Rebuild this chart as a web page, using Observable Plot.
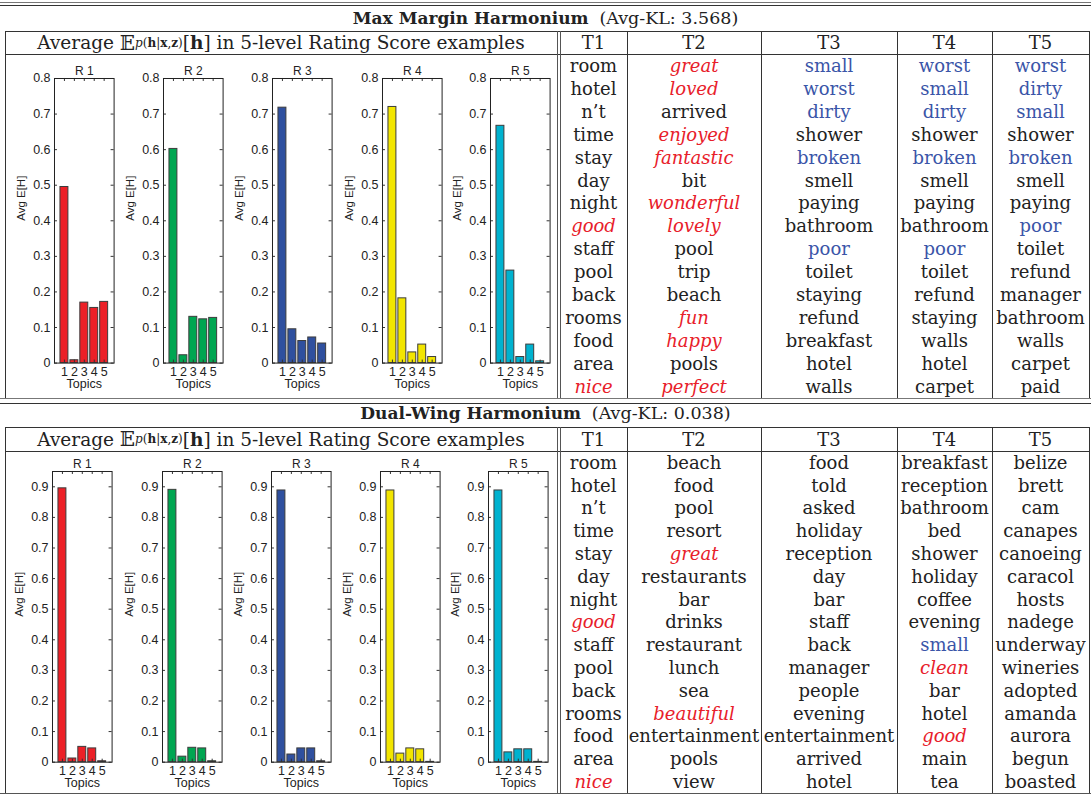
<!DOCTYPE html>
<html><head><meta charset="utf-8">
<script src="https://cdn.jsdelivr.net/npm/d3@7"></script>
<script src="https://cdn.jsdelivr.net/npm/@observablehq/plot@0.6"></script>
<style>
body{margin:0;background:#fff;}
#root{position:relative;width:1091px;height:796px;overflow:hidden;font-family:"DejaVu Serif",serif;color:#222;background:#fff;}
.h{position:absolute;height:0;border-top:1px solid #333;}
.v{position:absolute;width:0;border-left:1px solid #333;}
.title{position:absolute;left:0;width:1091px;text-align:center;font-size:17px;line-height:20px;white-space:nowrap;}
.title span{font-size:17.5px;}
.hdr{position:absolute;left:5px;width:552px;text-align:center;font-size:18.5px;white-space:nowrap;display:flex;align-items:center;justify-content:center;}
.hdr sub{font-size:12px;}
.hdr .bb{font-size:20px;}
.grid{position:absolute;display:grid;grid-template-columns:67px 134px 136px 95px 97px;}
.cell{font-size:18px;white-space:nowrap;display:flex;align-items:center;justify-content:center;}
.pos{color:#e8202a;font-style:italic;}
.neg{color:#3a55a8;}
.chart{position:absolute;overflow:visible;}
</style></head><body><div id="root"></div>
<script>
// ---------- data ----------
const topics = [1, 2, 3, 4, 5];
const ratingLabels = ["R 1", "R 2", "R 3", "R 4", "R 5"];
const ratingColors = ["#ec2027", "#00a651", "#2f509f", "#f2e500", "#00b2cf"];
const topicHeaders = ["T1", "T2", "T3", "T4", "T5"];

// Max Margin Harmonium: Avg E[H] per topic, for each rating level
const mmhR1 = [0.495, 0.008, 0.170, 0.155, 0.172];
const mmhR2 = [0.602, 0.022, 0.130, 0.123, 0.127];
const mmhR3 = [0.718, 0.095, 0.062, 0.072, 0.055];
const mmhR4 = [0.720, 0.182, 0.030, 0.052, 0.017];
const mmhR5 = [0.667, 0.260, 0.017, 0.052, 0.005];
const mmhYTicks = [0, 0.1, 0.2, 0.3, 0.4, 0.5, 0.6, 0.7, 0.8];

// Dual-Wing Harmonium
const dwhR1 = [0.895, 0.012, 0.050, 0.045, 0.003];
const dwhR2 = [0.890, 0.018, 0.047, 0.045, 0.003];
const dwhR3 = [0.888, 0.025, 0.045, 0.045, 0.003];
const dwhR4 = [0.888, 0.028, 0.045, 0.042, 0.001];
const dwhR5 = [0.888, 0.032, 0.042, 0.042, 0.001];
const dwhYTicks = [0, 0.1, 0.2, 0.3, 0.4, 0.5, 0.6, 0.7, 0.8, 0.9];

// word lists
const mmhT1 = ["room","hotel","n’t","time","stay","day","night","good","staff","pool","back","rooms","food","area","nice"];
const mmhT2 = ["great","loved","arrived","enjoyed","fantastic","bit","wonderful","lovely","pool","trip","beach","fun","happy","pools","perfect"];
const mmhT3 = ["small","worst","dirty","shower","broken","smell","paying","bathroom","poor","toilet","staying","refund","breakfast","hotel","walls"];
const mmhT4 = ["worst","small","dirty","shower","broken","smell","paying","bathroom","poor","toilet","refund","staying","walls","hotel","carpet"];
const mmhT5 = ["worst","dirty","small","shower","broken","smell","paying","poor","toilet","refund","manager","bathroom","walls","carpet","paid"];

const dwhT1 = ["room","hotel","n’t","time","stay","day","night","good","staff","pool","back","rooms","food","area","nice"];
const dwhT2 = ["beach","food","pool","resort","great","restaurants","bar","drinks","restaurant","lunch","sea","beautiful","entertainment","pools","view"];
const dwhT3 = ["food","told","asked","holiday","reception","day","bar","staff","back","manager","people","evening","entertainment","arrived","hotel"];
const dwhT4 = ["breakfast","reception","bathroom","bed","shower","holiday","coffee","evening","small","clean","bar","hotel","good","main","tea"];
const dwhT5 = ["belize","brett","cam","canapes","canoeing","caracol","hosts","nadege","underway","wineries","adopted","amanda","aurora","begun","boasted"];

const positiveWords = ["good","nice","great","loved","enjoyed","fantastic","wonderful","lovely","fun","happy","perfect","beautiful","clean"];
const negativeWords = ["small","worst","dirty","broken","poor"];

// ---------- layout helpers ----------
const root = document.getElementById("root");
function hline(y, x1, x2, color, w) {
  const d = document.createElement("div"); d.className = "h";
  d.style.top = y + "px"; d.style.left = x1 + "px"; d.style.width = (x2 - x1) + "px";
  if (color) d.style.borderTopColor = color;
  if (w) d.style.borderTopWidth = w + "px";
  root.appendChild(d);
}
function vline(x, y1, y2, color) {
  const d = document.createElement("div"); d.className = "v";
  d.style.left = x + "px"; d.style.top = y1 + "px"; d.style.height = (y2 - y1) + "px";
  if (color) d.style.borderLeftColor = color;
  root.appendChild(d);
}
function addHTML(cls, html, style) {
  const d = document.createElement("div"); d.className = cls; d.innerHTML = html;
  Object.assign(d.style, style); root.appendChild(d); return d;
}

function barChart(values, label, color, yMax, yTicks, frameLeft, frameTop, frameBottom) {
  const W = 59.6, H = frameBottom - frameTop;
  const ml = 42, mr = 8, mt = 22, mb = 36;
  const data = topics.map((t, i) => ({topic: t, value: values[i]}));
  const svg = Plot.plot({
    width: ml + W + mr, height: mt + H + mb,
    marginLeft: ml, marginRight: mr, marginTop: mt, marginBottom: mb,
    style: {fontFamily: "'Liberation Sans', Arial, sans-serif", fontSize: "12px", color: "#222", background: "transparent", overflow: "visible"},
    x: {domain: [0, 6], axis: null, label: null},
    y: {domain: [0, yMax], axis: null, label: null},
    marks: [
      Plot.rectY(data, {x1: d => d.topic - 0.4, x2: d => d.topic + 0.4, y1: 0, y2: "value", fill: color, stroke: "#3c3c3c", strokeWidth: 1}),
      Plot.tickY(yTicks, {y: d => d, insetRight: W - 3, stroke: "#333"}),
      Plot.tickY(yTicks, {y: d => d, insetLeft: W - 3, stroke: "#333"}),
      Plot.tickX(topics, {x: d => d, insetBottom: H - 3, stroke: "#333"}),
      Plot.tickX(topics, {x: d => d, insetTop: H - 3, stroke: "#333"}),
      Plot.frame({stroke: "#222"}),
      Plot.axisY(yTicks, {tickSize: 0, tickPadding: 4, label: null, fontSize: 12.5, tickFormat: d => d === 0 ? "0" : d3.format(".1f")(d)}),
      Plot.axisX(topics, {tickSize: 0, tickPadding: 4, label: null, fontSize: 12.5, tickFormat: d => String(d)}),
      Plot.text([label], {text: d => d, frameAnchor: "top", dy: -12, fontSize: 12}),
      Plot.text(["Avg E[H]"], {text: d => d, frameAnchor: "left", rotate: -90, dx: -33, fontSize: 11.5}),
      Plot.text(["Topics"], {text: d => d, frameAnchor: "bottom", dy: 25, fontSize: 12.5})
    ]
  });
  svg.classList.add("chart");
  svg.style.left = (frameLeft - ml) + "px";
  svg.style.top = (frameTop - mt) + "px";
  root.appendChild(svg);
}

function wordTable(columns, top, headH, rowH) {
  const g = document.createElement("div"); g.className = "grid";
  g.style.left = "560px"; g.style.top = top + "px";
  g.style.gridTemplateRows = `${headH}px repeat(15, ${rowH}px)`;
  topicHeaders.forEach(t => {
    const c = document.createElement("div"); c.className = "cell"; c.textContent = t; g.appendChild(c);
  });
  for (let r = 0; r < 15; r++) {
    columns.forEach(col => {
      const w = col[r];
      const c = document.createElement("div"); c.className = "cell"; c.textContent = w;
      if (positiveWords.includes(w)) c.classList.add("pos");
      else if (negativeWords.includes(w)) c.classList.add("neg");
      g.appendChild(c);
    });
  }
  root.appendChild(g);
}

const avgHeader = 'Average&nbsp;<span class="bb">𝔼</span><sub><i>p</i>(<b>h</b>|<b>x</b>,<b>z</b>)</sub>[<b>h</b>]&nbsp;in 5-level Rating Score examples';
const colLines = [627, 761, 897, 992];

function section(opts) {
  const {titleBold, titleRest, titleY, boxTop, headBottom, boxBottom, vals, yMax, yTicks, frameLefts, frameTop, frameBottom, cols} = opts;
  addHTML("title", `<b>${titleBold}</b>&nbsp;&nbsp;<span>${titleRest}</span>`, {top: (titleY - 10) + "px"});
  hline(boxTop, 5, 1090);
  hline(headBottom, 5, 1090);
  vline(5, boxTop, boxBottom);
  vline(557, boxTop, boxBottom, "#555");
  vline(560, boxTop, boxBottom, "#555");
  vline(1089, boxTop, boxBottom);
  colLines.forEach(x => vline(x, boxTop, boxBottom));
  addHTML("hdr", avgHeader, {top: boxTop + "px", height: (headBottom - boxTop) + "px"});
  vals.forEach((v, i) => barChart(v, ratingLabels[i], ratingColors[i], yMax, yTicks, frameLefts[i], frameTop, frameBottom));
  wordTable(cols, boxTop, headBottom - boxTop, (boxBottom - headBottom) / 15);
}

hline(2, 0, 1091, "#777", 1.5);
hline(5, 0, 1091, "#333");

section({
  titleBold: "Max Margin Harmonium", titleRest: "(Avg-KL: 3.568)", titleY: 18,
  boxTop: 31, headBottom: 54, boxBottom: 398,
  vals: [mmhR1, mmhR2, mmhR3, mmhR4, mmhR5], yMax: 0.8, yTicks: mmhYTicks,
  frameLefts: [54.3, 163.3, 272, 381.5, 490], frameTop: 77.7, frameBottom: 362.3,
  cols: [mmhT1, mmhT2, mmhT3, mmhT4, mmhT5]
});
hline(398, 0, 1091, "#777", 1.5);
hline(403, 0, 1091, "#333");
section({
  titleBold: "Dual-Wing Harmonium", titleRest: "(Avg-KL: 0.038)", titleY: 413,
  boxTop: 427, headBottom: 451, boxBottom: 793,
  vals: [dwhR1, dwhR2, dwhR3, dwhR4, dwhR5], yMax: 0.95, yTicks: dwhYTicks,
  frameLefts: [51.7, 161.7, 270.7, 380, 488], frameTop: 471, frameBottom: 761.7,
  cols: [dwhT1, dwhT2, dwhT3, dwhT4, dwhT5]
});
hline(793, 0, 1091, "#555");
</script></body></html>
